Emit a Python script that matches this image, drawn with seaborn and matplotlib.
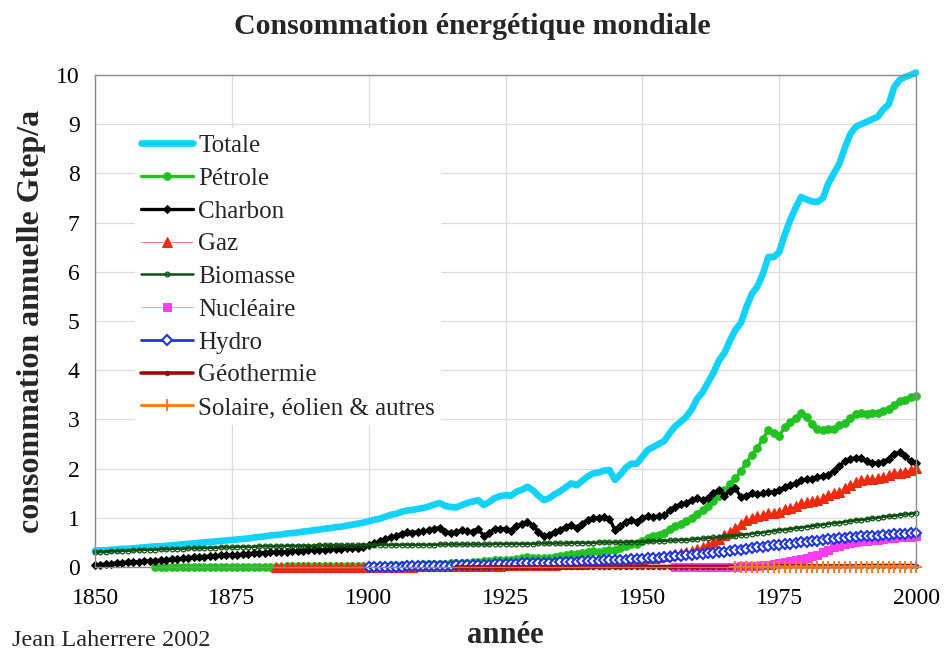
import numpy as np
import pandas as pd
import matplotlib
matplotlib.use("Agg")
import matplotlib.pyplot as plt
import seaborn as sns

# ---------------- data (Gtep/a) ----------------
years_totale = list(range(1850, 2001))
totale = [
    0.33, 0.34, 0.34, 0.35, 0.36, 0.37, 0.37, 0.38, 0.39, 0.40,
    0.41, 0.42, 0.42, 0.43, 0.44, 0.45, 0.46, 0.47, 0.48, 0.49,
    0.50, 0.51, 0.52, 0.53, 0.54, 0.55, 0.56, 0.57, 0.58, 0.60,
    0.61, 0.62, 0.64, 0.65, 0.66, 0.68, 0.69, 0.70, 0.72, 0.73,
    0.75, 0.76, 0.78, 0.79, 0.81, 0.82, 0.84, 0.86, 0.88, 0.90,
    0.93, 0.96, 0.98, 1.02, 1.06, 1.08, 1.12, 1.15, 1.16, 1.18,
    1.20, 1.23, 1.27, 1.30, 1.24, 1.22, 1.21, 1.26, 1.30, 1.33,
    1.36, 1.26, 1.32, 1.40, 1.44, 1.46, 1.45, 1.53, 1.57, 1.63,
    1.56, 1.45, 1.36, 1.40, 1.48, 1.54, 1.62, 1.70, 1.66, 1.75,
    1.84, 1.90, 1.92, 1.96, 1.97, 1.77, 1.88, 2.02, 2.10, 2.10,
    2.24, 2.38, 2.44, 2.50, 2.56, 2.72, 2.86, 2.95, 3.05, 3.20,
    3.42, 3.55, 3.75, 3.95, 4.20, 4.35, 4.60, 4.82, 4.96, 5.28,
    5.55, 5.70, 5.95, 6.30, 6.30, 6.40, 6.75, 7.05, 7.30, 7.52,
    7.47, 7.43, 7.42, 7.50, 7.80, 8.00, 8.20, 8.52, 8.80, 8.95,
    9.00, 9.05, 9.10, 9.15, 9.30, 9.40, 9.75, 9.90, 9.96, 10.00,
    10.05,
]

years_petrole = list(range(1861, 2001))
petrole = [
    0.00, 0.00, 0.00, 0.00, 0.00, 0.00, 0.00, 0.01, 0.01,
    0.01, 0.01, 0.01, 0.01, 0.01, 0.01, 0.01, 0.01, 0.01, 0.01,
    0.01, 0.01, 0.01, 0.01, 0.01, 0.02, 0.02, 0.02, 0.02, 0.02,
    0.02, 0.02, 0.02, 0.02, 0.02, 0.02, 0.02, 0.03, 0.03, 0.03,
    0.03, 0.03, 0.03, 0.03, 0.04, 0.04, 0.04, 0.05, 0.05, 0.05,
    0.06, 0.06, 0.07, 0.07, 0.07, 0.08, 0.08, 0.09, 0.09, 0.10,
    0.11, 0.12, 0.12, 0.14, 0.14, 0.15, 0.15, 0.17, 0.18, 0.20,
    0.19, 0.18, 0.18, 0.19, 0.21, 0.22, 0.24, 0.27, 0.27, 0.29,
    0.30, 0.32, 0.30, 0.32, 0.35, 0.35, 0.38, 0.42, 0.46, 0.47,
    0.52, 0.58, 0.62, 0.66, 0.70, 0.78, 0.84, 0.88, 0.93, 1.00,
    1.08, 1.16, 1.25, 1.34, 1.45, 1.56, 1.68, 1.80, 1.95, 2.12,
    2.28, 2.42, 2.60, 2.78, 2.72, 2.66, 2.84, 2.94, 3.02, 3.14,
    3.04, 2.90, 2.80, 2.78, 2.80, 2.80, 2.88, 2.92, 3.02, 3.10,
    3.12, 3.10, 3.12, 3.12, 3.18, 3.22, 3.30, 3.38, 3.40, 3.45,
    3.48,
]

years_charbon = list(range(1850, 2001))
charbon = [
    0.04, 0.05, 0.06, 0.07, 0.08, 0.09, 0.10, 0.10, 0.11, 0.12,
    0.12, 0.13, 0.14, 0.15, 0.16, 0.17, 0.18, 0.19, 0.20, 0.21,
    0.21, 0.22, 0.23, 0.24, 0.24, 0.25, 0.25, 0.26, 0.27, 0.28,
    0.28, 0.29, 0.30, 0.30, 0.31, 0.31, 0.32, 0.32, 0.33, 0.34,
    0.34, 0.35, 0.35, 0.36, 0.36, 0.37, 0.38, 0.38, 0.39, 0.40,
    0.44, 0.48, 0.52, 0.56, 0.60, 0.63, 0.68, 0.71, 0.70, 0.72,
    0.73, 0.75, 0.78, 0.80, 0.72, 0.70, 0.71, 0.75, 0.73, 0.72,
    0.78, 0.63, 0.70, 0.77, 0.77, 0.78, 0.74, 0.84, 0.88, 0.92,
    0.84, 0.72, 0.62, 0.66, 0.72, 0.76, 0.82, 0.86, 0.80, 0.88,
    0.96, 1.00, 1.00, 1.02, 0.98, 0.75, 0.84, 0.92, 0.96, 0.92,
    1.00, 1.03, 1.02, 1.04, 1.05, 1.15, 1.22, 1.28, 1.30, 1.36,
    1.40, 1.36, 1.40, 1.50, 1.57, 1.45, 1.55, 1.60, 1.42, 1.45,
    1.50, 1.48, 1.50, 1.52, 1.53, 1.57, 1.62, 1.66, 1.70, 1.76,
    1.78, 1.78, 1.82, 1.85, 1.88, 1.95, 2.05, 2.15, 2.20, 2.22,
    2.22, 2.15, 2.12, 2.11, 2.14, 2.20, 2.30, 2.33, 2.25, 2.15,
    2.12,
]

years_gaz = list(range(1883, 2001))
gaz = [
    0.00, 0.00, 0.00, 0.00, 0.00, 0.00, 0.00,
    0.00, 0.00, 0.00, 0.00, 0.00, 0.00, 0.01, 0.01, 0.01, 0.01,
    0.01, 0.01, 0.01, 0.01, 0.01, 0.01, 0.01, 0.01, 0.01, 0.02,
    0.02, 0.02, 0.02, 0.02, 0.02, 0.02, 0.02, 0.02, 0.02, 0.02,
    0.02, 0.02, 0.03, 0.03, 0.03, 0.04, 0.04, 0.04, 0.05, 0.05,
    0.05, 0.05, 0.05, 0.05, 0.05, 0.06, 0.06, 0.07, 0.07, 0.07,
    0.08, 0.08, 0.08, 0.09, 0.10, 0.10, 0.10, 0.11, 0.13, 0.14,
    0.16, 0.18, 0.19, 0.21, 0.22, 0.24, 0.26, 0.28, 0.30, 0.33,
    0.37, 0.41, 0.45, 0.50, 0.57, 0.65, 0.72, 0.80, 0.88, 0.95,
    1.00, 1.03, 1.06, 1.10, 1.10, 1.12, 1.17, 1.20, 1.25, 1.30,
    1.32, 1.34, 1.36, 1.40, 1.47, 1.50, 1.53, 1.60, 1.66, 1.72,
    1.76, 1.78, 1.78, 1.80, 1.82, 1.86, 1.92, 1.92, 1.94, 1.98,
    2.02,
]

years_biomasse = list(range(1850, 2001))
biomasse = [
    0.30, 0.31, 0.31, 0.32, 0.32, 0.33, 0.33, 0.34, 0.34, 0.35,
    0.35, 0.35, 0.36, 0.36, 0.37, 0.37, 0.37, 0.38, 0.38, 0.38,
    0.39, 0.39, 0.39, 0.40, 0.40, 0.40, 0.41, 0.41, 0.41, 0.41,
    0.42, 0.42, 0.42, 0.42, 0.42, 0.43, 0.43, 0.43, 0.43, 0.43,
    0.43, 0.44, 0.44, 0.44, 0.44, 0.44, 0.44, 0.44, 0.45, 0.45,
    0.45, 0.45, 0.45, 0.45, 0.45, 0.45, 0.45, 0.45, 0.45, 0.45,
    0.45, 0.45, 0.45, 0.46, 0.46, 0.46, 0.46, 0.46, 0.46, 0.46,
    0.46, 0.46, 0.46, 0.47, 0.47, 0.47, 0.47, 0.47, 0.47, 0.47,
    0.47, 0.48, 0.48, 0.48, 0.48, 0.48, 0.48, 0.49, 0.49, 0.49,
    0.49, 0.49, 0.50, 0.50, 0.50, 0.50, 0.50, 0.51, 0.51, 0.51,
    0.51, 0.52, 0.52, 0.53, 0.53, 0.54, 0.54, 0.55, 0.55, 0.56,
    0.57, 0.58, 0.59, 0.60, 0.61, 0.62, 0.63, 0.64, 0.65, 0.66,
    0.68, 0.69, 0.70, 0.72, 0.73, 0.75, 0.76, 0.77, 0.79, 0.80,
    0.82, 0.83, 0.85, 0.86, 0.88, 0.89, 0.90, 0.92, 0.93, 0.95,
    0.96, 0.97, 0.99, 1.00, 1.02, 1.03, 1.04, 1.06, 1.07, 1.08,
    1.10,
]

years_nucleaire = list(range(1956, 2001))
nucleaire = [
    0.00, 0.00, 0.00, 0.00,
    0.00, 0.00, 0.00, 0.00, 0.01, 0.01, 0.01, 0.01, 0.02, 0.02,
    0.03, 0.03, 0.04, 0.05, 0.06, 0.08, 0.10, 0.12, 0.15, 0.17,
    0.19, 0.22, 0.25, 0.30, 0.35, 0.40, 0.43, 0.46, 0.49, 0.50,
    0.52, 0.53, 0.54, 0.55, 0.56, 0.58, 0.59, 0.60, 0.60, 0.61,
    0.62,
]

years_hydro = list(range(1900, 2001))
hydro = [
    0.00, 0.00, 0.01, 0.01, 0.01, 0.01, 0.01, 0.02, 0.02, 0.02,
    0.02, 0.02, 0.03, 0.03, 0.03, 0.03, 0.04, 0.04, 0.04, 0.04,
    0.05, 0.05, 0.05, 0.06, 0.06, 0.06, 0.07, 0.07, 0.08, 0.08,
    0.08, 0.08, 0.08, 0.09, 0.09, 0.10, 0.10, 0.11, 0.11, 0.12,
    0.12, 0.13, 0.13, 0.14, 0.14, 0.14, 0.15, 0.15, 0.16, 0.16,
    0.17, 0.18, 0.19, 0.19, 0.20, 0.21, 0.22, 0.23, 0.24, 0.25,
    0.26, 0.27, 0.28, 0.29, 0.30, 0.31, 0.32, 0.34, 0.35, 0.37,
    0.38, 0.40, 0.41, 0.42, 0.44, 0.45, 0.46, 0.47, 0.49, 0.50,
    0.51, 0.52, 0.53, 0.55, 0.56, 0.57, 0.58, 0.59, 0.60, 0.61,
    0.62, 0.63, 0.63, 0.64, 0.65, 0.66, 0.67, 0.67, 0.68, 0.69,
    0.70,
]

years_geo = list(range(1916, 2001))
geothermie = [
    0.00, 0.00, 0.00, 0.00,
    0.00, 0.00, 0.00, 0.00, 0.00, 0.00, 0.00, 0.00, 0.00, 0.00,
    0.00, 0.00, 0.00, 0.00, 0.00, 0.00, 0.00, 0.00, 0.00, 0.00,
    0.00, 0.00, 0.00, 0.00, 0.00, 0.00, 0.00, 0.00, 0.00, 0.00,
    0.01, 0.01, 0.01, 0.01, 0.01, 0.01, 0.01, 0.01, 0.01, 0.01,
    0.01, 0.01, 0.01, 0.01, 0.01, 0.01, 0.01, 0.01, 0.01, 0.01,
    0.01, 0.01, 0.01, 0.01, 0.01, 0.02, 0.02, 0.02, 0.02, 0.02,
    0.02, 0.02, 0.02, 0.02, 0.02, 0.02, 0.02, 0.02, 0.02, 0.02,
    0.03, 0.03, 0.03, 0.03, 0.03, 0.03, 0.03, 0.03, 0.03, 0.03,
    0.03,
]

years_solaire = list(range(1967, 2001))
solaire = [
    0.00, 0.00, 0.00,
    0.00, 0.00, 0.00, 0.00, 0.00, 0.00, 0.00, 0.00, 0.00, 0.00,
    0.00, 0.00, 0.00, 0.00, 0.00, 0.00, 0.00, 0.00, 0.00, 0.01,
    0.01, 0.01, 0.01, 0.01, 0.01, 0.01, 0.01, 0.01, 0.01, 0.01,
    0.01,
]

# ---------------- styling ----------------
sns.set_theme(style="whitegrid")
plt.rcParams["font.family"] = ["Liberation Serif", "DejaVu Serif"]

fig = plt.figure(figsize=(9.44, 6.54), dpi=100)
ax = fig.add_axes([95 / 944, 87 / 654, 821 / 944, 492 / 654])
ax.set_facecolor("white")

series = [
    ("Totale", years_totale, totale,
     dict(color="#12D2F8", lw=4.8, marker=None)),
    ("Pétrole", years_petrole, petrole,
     dict(color="#22C222", lw=2.4, marker="o", ms=5.5, mec="#22C222")),
    ("Charbon", years_charbon, charbon,
     dict(color="#000000", lw=2.4, marker="D", ms=4.5, mec="#000000")),
    ("Gaz", years_gaz, gaz,
     dict(color="#EE2A10", lw=0.4, marker="^", ms=6.5, mec="#EE2A10")),
    ("Biomasse", years_biomasse, biomasse,
     dict(color="#0E4F12", lw=1.8, marker="o", ms=3.4, mfc="none", mec="#0E4F12", mew=0.9)),
    ("Nucléaire", years_nucleaire, nucleaire,
     dict(color="#FF3CF0", lw=0.4, marker="s", ms=5.5, mec="#FF3CF0")),
    ("Hydro", years_hydro, hydro,
     dict(color="#1F35E0", lw=2.0, marker="D", ms=5.5, mfc="white", mec="#1F35E0", mew=1.5)),
    ("Géothermie", years_geo, geothermie,
     dict(color="#9A0E0A", lw=2.6, marker="o", ms=3.2, mec="#9A0E0A")),
    ("Solaire, éolien & autres", years_solaire, solaire,
     dict(color="#FF7E1E", lw=2.2, marker="+", ms=9, mew=1.5, mec="#FF7E1E")),
]

for name, yrs, vals, kw in series:
    df = pd.DataFrame({"annee": yrs, "val": vals})
    sns.lineplot(data=df, x="annee", y="val", ax=ax, label=name,
                 errorbar=None, sort=False, clip_on=False, **kw)

ax.set_xlim(1850, 2000)
ax.set_ylim(0, 10)
ax.set_xticks([1850, 1875, 1900, 1925, 1950, 1975, 2000])
ax.set_yticks(range(0, 11))
ax.grid(True, color="#dcdcdc", lw=0.9)
for s in ax.spines.values():
    s.set_color("#8c8c8c")
    s.set_linewidth(1.0)
ax.tick_params(axis="both", length=0, labelsize=17, colors="black")
ax.tick_params(axis="x", pad=15)
ax.tick_params(axis="y", pad=11)

ax.set_xlabel("année", fontsize=22, fontweight="bold", labelpad=9)
ax.set_ylabel("consommation annuelle Gtep/a", fontsize=23, fontweight="bold", labelpad=7)
fig.text(0.5, 1 - 27 / 654, "Consommation énergétique mondiale",
         ha="center", va="center", fontsize=21.5, fontweight="bold")
fig.text(12 / 944, 1 - 641 / 654, "Jean Laherrere 2002", ha="left", va="center", fontsize=17.5)

leg = ax.legend(loc="upper left", bbox_to_anchor=(0.033, 0.917), fontsize=18,
                frameon=True, fancybox=False, framealpha=1.0, edgecolor="white",
                handlelength=2.1, handletextpad=0.2, labelspacing=0.41, borderpad=0.25)
leg.get_frame().set_linewidth(0)

fig.savefig("out.png", dpi=100)
